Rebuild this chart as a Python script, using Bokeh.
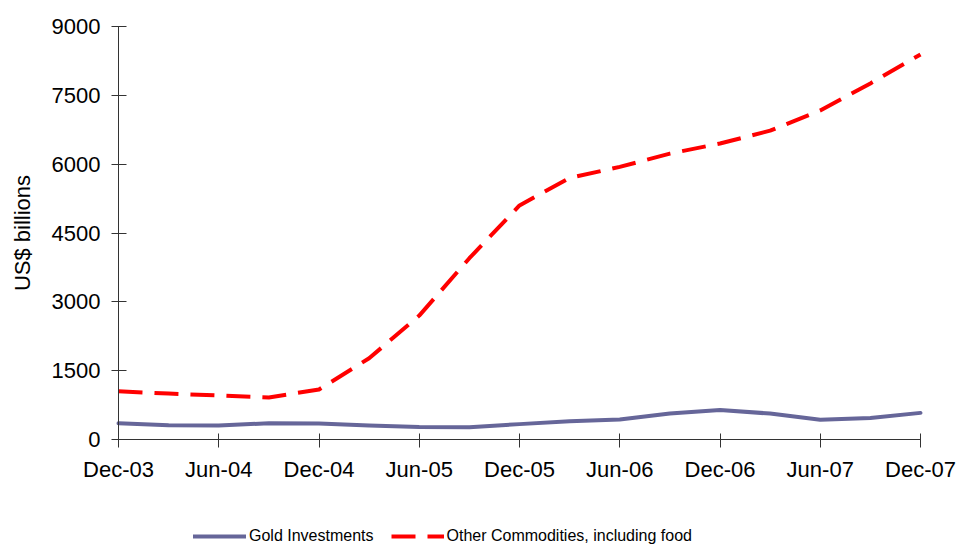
from bokeh.plotting import figure
from bokeh.models import ColumnDataSource, FixedTicker, Legend, LegendItem, Range1d
from bokeh.embed import file_html
from bokeh.resources import INLINE

# Quarterly observations, Dec-03 .. Dec-07
quarters = ["Dec-03", "Mar-04", "Jun-04", "Sep-04", "Dec-04", "Mar-05", "Jun-05",
            "Sep-05", "Dec-05", "Mar-06", "Jun-06", "Sep-06", "Dec-06", "Mar-07",
            "Jun-07", "Sep-07", "Dec-07"]
gold_investments = [355, 310, 305, 355, 350, 305, 270, 265, 335, 400, 435, 565,
                    645, 565, 430, 470, 580]
other_commodities = [1050, 1000, 960, 915, 1090, 1770, 2700, 3950, 5100, 5700,
                     5940, 6230, 6450, 6730, 7170, 7760, 8390]
y_ticks = [0, 1500, 3000, 4500, 6000, 7500, 9000]

FONT = "Liberation Sans"
W, H = 958, 546
# pixel box of the axes inside the canvas
LEFT, RIGHT, TOP, BOTTOM = 118, 920, 26, 439
Y_MAX = 9000
X_MAX = len(quarters) - 1
ux = X_MAX / (RIGHT - LEFT)
uy = Y_MAX / (BOTTOM - TOP)

src = ColumnDataSource(dict(
    x=list(range(len(quarters))),
    gold=gold_investments,
    other=other_commodities,
))

# the frame fills the whole canvas; both axes are pinned at 0 so that
# tick labels, axis title and legend all live inside it
p = figure(width=W, height=H, output_backend="svg", toolbar_location=None,
           x_range=Range1d(-LEFT * ux, X_MAX + (W - RIGHT) * ux),
           y_range=Range1d(-(H - BOTTOM) * uy, Y_MAX + TOP * uy),
           min_border=0)
p.outline_line_color = None
p.xgrid.visible = False
p.ygrid.visible = False
p.background_fill_color = "white"
p.border_fill_color = "white"

r_gold = p.line("x", "gold", source=src, line_color="#666699", line_width=4,
                line_join="round", line_cap="round")
r_other = p.line("x", "other", source=src, line_color="#ff0000", line_width=4,
                 line_dash="24 12", line_join="round")

# x axis: semiannual labelled ticks
semi = list(range(0, len(quarters), 2))
p.xaxis.fixed_location = 0
p.xaxis.bounds = (0, X_MAX)
p.xaxis.ticker = FixedTicker(ticks=semi)
p.xaxis.major_label_overrides = {i: quarters[i] for i in semi}
p.xaxis.minor_tick_line_color = None
p.xaxis.major_tick_in = 6
p.xaxis.major_tick_out = 8
p.xaxis.major_label_standoff = 9

p.yaxis.fixed_location = 0
p.yaxis.bounds = (0, Y_MAX)
p.yaxis.ticker = FixedTicker(ticks=y_ticks)
p.yaxis.minor_tick_line_color = None
p.yaxis.major_tick_in = 8
p.yaxis.major_tick_out = 7
p.yaxis.major_label_standoff = 11
p.yaxis.axis_label = "US$ billions"
p.yaxis.axis_label_standoff = 14
p.yaxis.axis_label_text_font_style = "normal"
p.yaxis.axis_label_text_font_size = "22px"

for ax in (p.xaxis[0], p.yaxis[0]):
    ax.axis_line_color = "#333333"
    ax.major_tick_line_color = "#333333"
    ax.major_label_text_font = FONT
    ax.major_label_text_font_size = "22px"
    ax.major_label_text_color = "black"
    ax.axis_label_text_font = FONT
    ax.axis_label_text_color = "black"

legend = Legend(items=[
    LegendItem(label="Gold Investments", renderers=[r_gold]),
    LegendItem(label="Other Commodities, including food", renderers=[r_other]),
], orientation="horizontal", location=(193, 0))
legend.glyph_width = 53
legend.glyph_height = 20
legend.label_height = 20
legend.label_standoff = 3
legend.spacing = 17
legend.padding = 0
legend.margin = 0
legend.border_line_color = None
legend.background_fill_alpha = 0
legend.label_text_font = FONT
legend.label_text_font_size = "16px"
legend.label_text_color = "black"
p.add_layout(legend, "center")

open("out.html", "w").write(file_html(p, INLINE))
